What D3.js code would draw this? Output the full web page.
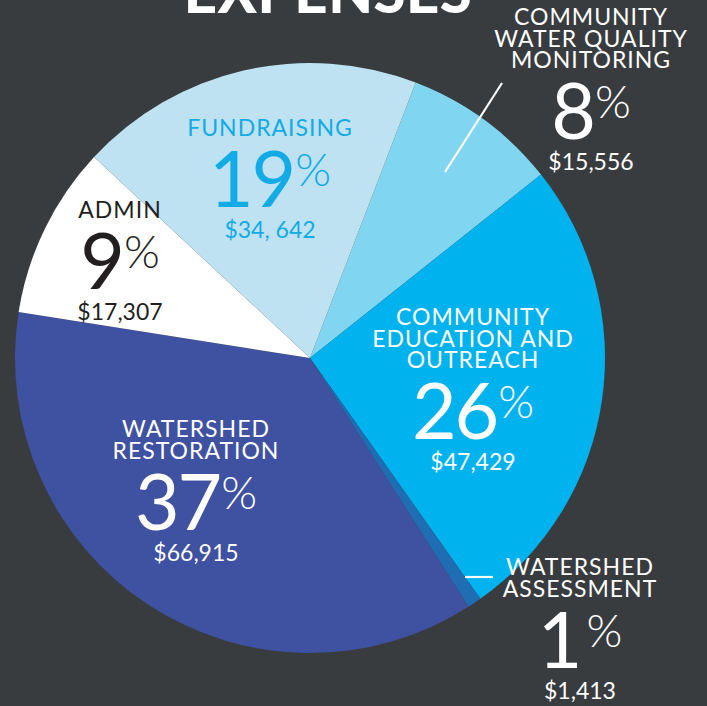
<!DOCTYPE html>
<html>
<head>
<meta charset="utf-8">
<script src="https://cdn.jsdelivr.net/npm/d3@7"></script>
<style>
  html, body { margin: 0; padding: 0; background: #393c3f; }
  svg { display: block; font-family: Lato, "Open Sans", sans-serif; }
</style>
</head>
<body>
<svg id="chart"></svg>
<script>
// Expense categories, clockwise from the top right
const categories = ["COMMUNITY WATER QUALITY MONITORING", "COMMUNITY EDUCATION AND OUTREACH",
  "WATERSHED ASSESSMENT", "WATERSHED RESTORATION", "ADMIN", "FUNDRAISING"];
const amounts = [15556, 47429, 1413, 66915, 17307, 34642];
const percent_labels = ["8", "26", "1", "37", "9", "19"];
const amount_labels = ["$15,556", "$47,429", "$1,413", "$66,915", "$17,307", "$34, 642"];
const label_lines = [
  ["COMMUNITY", "WATER QUALITY", "MONITORING"],
  ["COMMUNITY", "EDUCATION AND", "OUTREACH"],
  ["WATERSHED", "ASSESSMENT"],
  ["WATERSHED", "RESTORATION"],
  ["ADMIN"],
  ["FUNDRAISING"]
];
const title_text = "EXPENSES";

const width = 707, height = 706;
const cx = 310, cy = 358, radius = 295;
const start_angle = 21 * Math.PI / 180;

// Slice colours and label styling per category
const slice_colors = ["#80d5f0", "#00b2ee", "#1f6db3", "#3f51a1", "#ffffff", "#bee2f1"];
const text_colors = ["#ffffff", "#ffffff", "#ffffff", "#ffffff", "#231f20", "#12abe6"];
// label anchor: centre x and baseline of the first line
const label_pos = [
  { x: 591, y: 25 },
  { x: 473, y: 325 },
  { x: 580, y: 575 },
  { x: 196, y: 437 },
  { x: 120, y: 218 },
  { x: 270, y: 136 }
];

const svg = d3.select("#chart")
  .attr("width", width)
  .attr("height", height);

const pie = d3.pie()
  .sort(null)
  .value(d => d)
  .startAngle(start_angle)
  .endAngle(start_angle + 2 * Math.PI);

const arc = d3.arc().innerRadius(0).outerRadius(radius);

const pie_g = svg.append("g").attr("transform", `translate(${cx},${cy})`);

pie_g.selectAll("path")
  .data(pie(amounts))
  .enter()
  .append("path")
  .attr("d", arc)
  .attr("fill", (d, i) => slice_colors[i]);

// Title, cut off by the top edge
svg.append("text")
  .attr("x", 328)
  .attr("y", 13)
  .attr("text-anchor", "middle")
  .attr("fill", "#ffffff")
  .attr("font-size", 58)
  .attr("font-weight", 900)
  .attr("letter-spacing", 0.5)
  .text(title_text);

// Leader lines for the two small slices
svg.append("line")
  .attr("x1", 502).attr("y1", 83)
  .attr("x2", 445).attr("y2", 172)
  .attr("stroke", "#ffffff")
  .attr("stroke-width", 2.2);
svg.append("line")
  .attr("x1", 465).attr("y1", 577)
  .attr("x2", 493).attr("y2", 577)
  .attr("stroke", "#ffffff")
  .attr("stroke-width", 2.2);

// Category labels with big percent and amount
categories.forEach((c, i) => {
  const p = label_pos[i];
  const g = svg.append("g").attr("fill", text_colors[i]).attr("text-anchor", "middle");
  const lines = label_lines[i];
  lines.forEach((line, j) => {
    g.append("text")
      .attr("x", p.x)
      .attr("y", p.y + j * 21.5)
      .attr("font-size", 23)
      .attr("font-weight", 400)
      .attr("letter-spacing", 1)
      .text(line);
  });
  const pct_base = p.y + (lines.length - 1) * 21.5 + 71;
  const pct = g.append("text")
    .attr("x", p.x)
    .attr("y", pct_base)
    .attr("font-weight", 400);
  pct.append("tspan")
    .attr("font-size", 77)
    .attr("letter-spacing", -2)
    .text(percent_labels[i]);
  pct.append("tspan")
    .attr("font-size", 46)
    .attr("font-weight", 300)
    .attr("dx", percent_labels[i] === "1" ? 6 : 1)
    .attr("dy", -21)
    .text("%");
  g.append("text")
    .attr("x", p.x)
    .attr("y", pct_base + 31)
    .attr("font-size", 23)
    .attr("font-weight", 400)
    .text(amount_labels[i]);
});
</script>
</body>
</html>
